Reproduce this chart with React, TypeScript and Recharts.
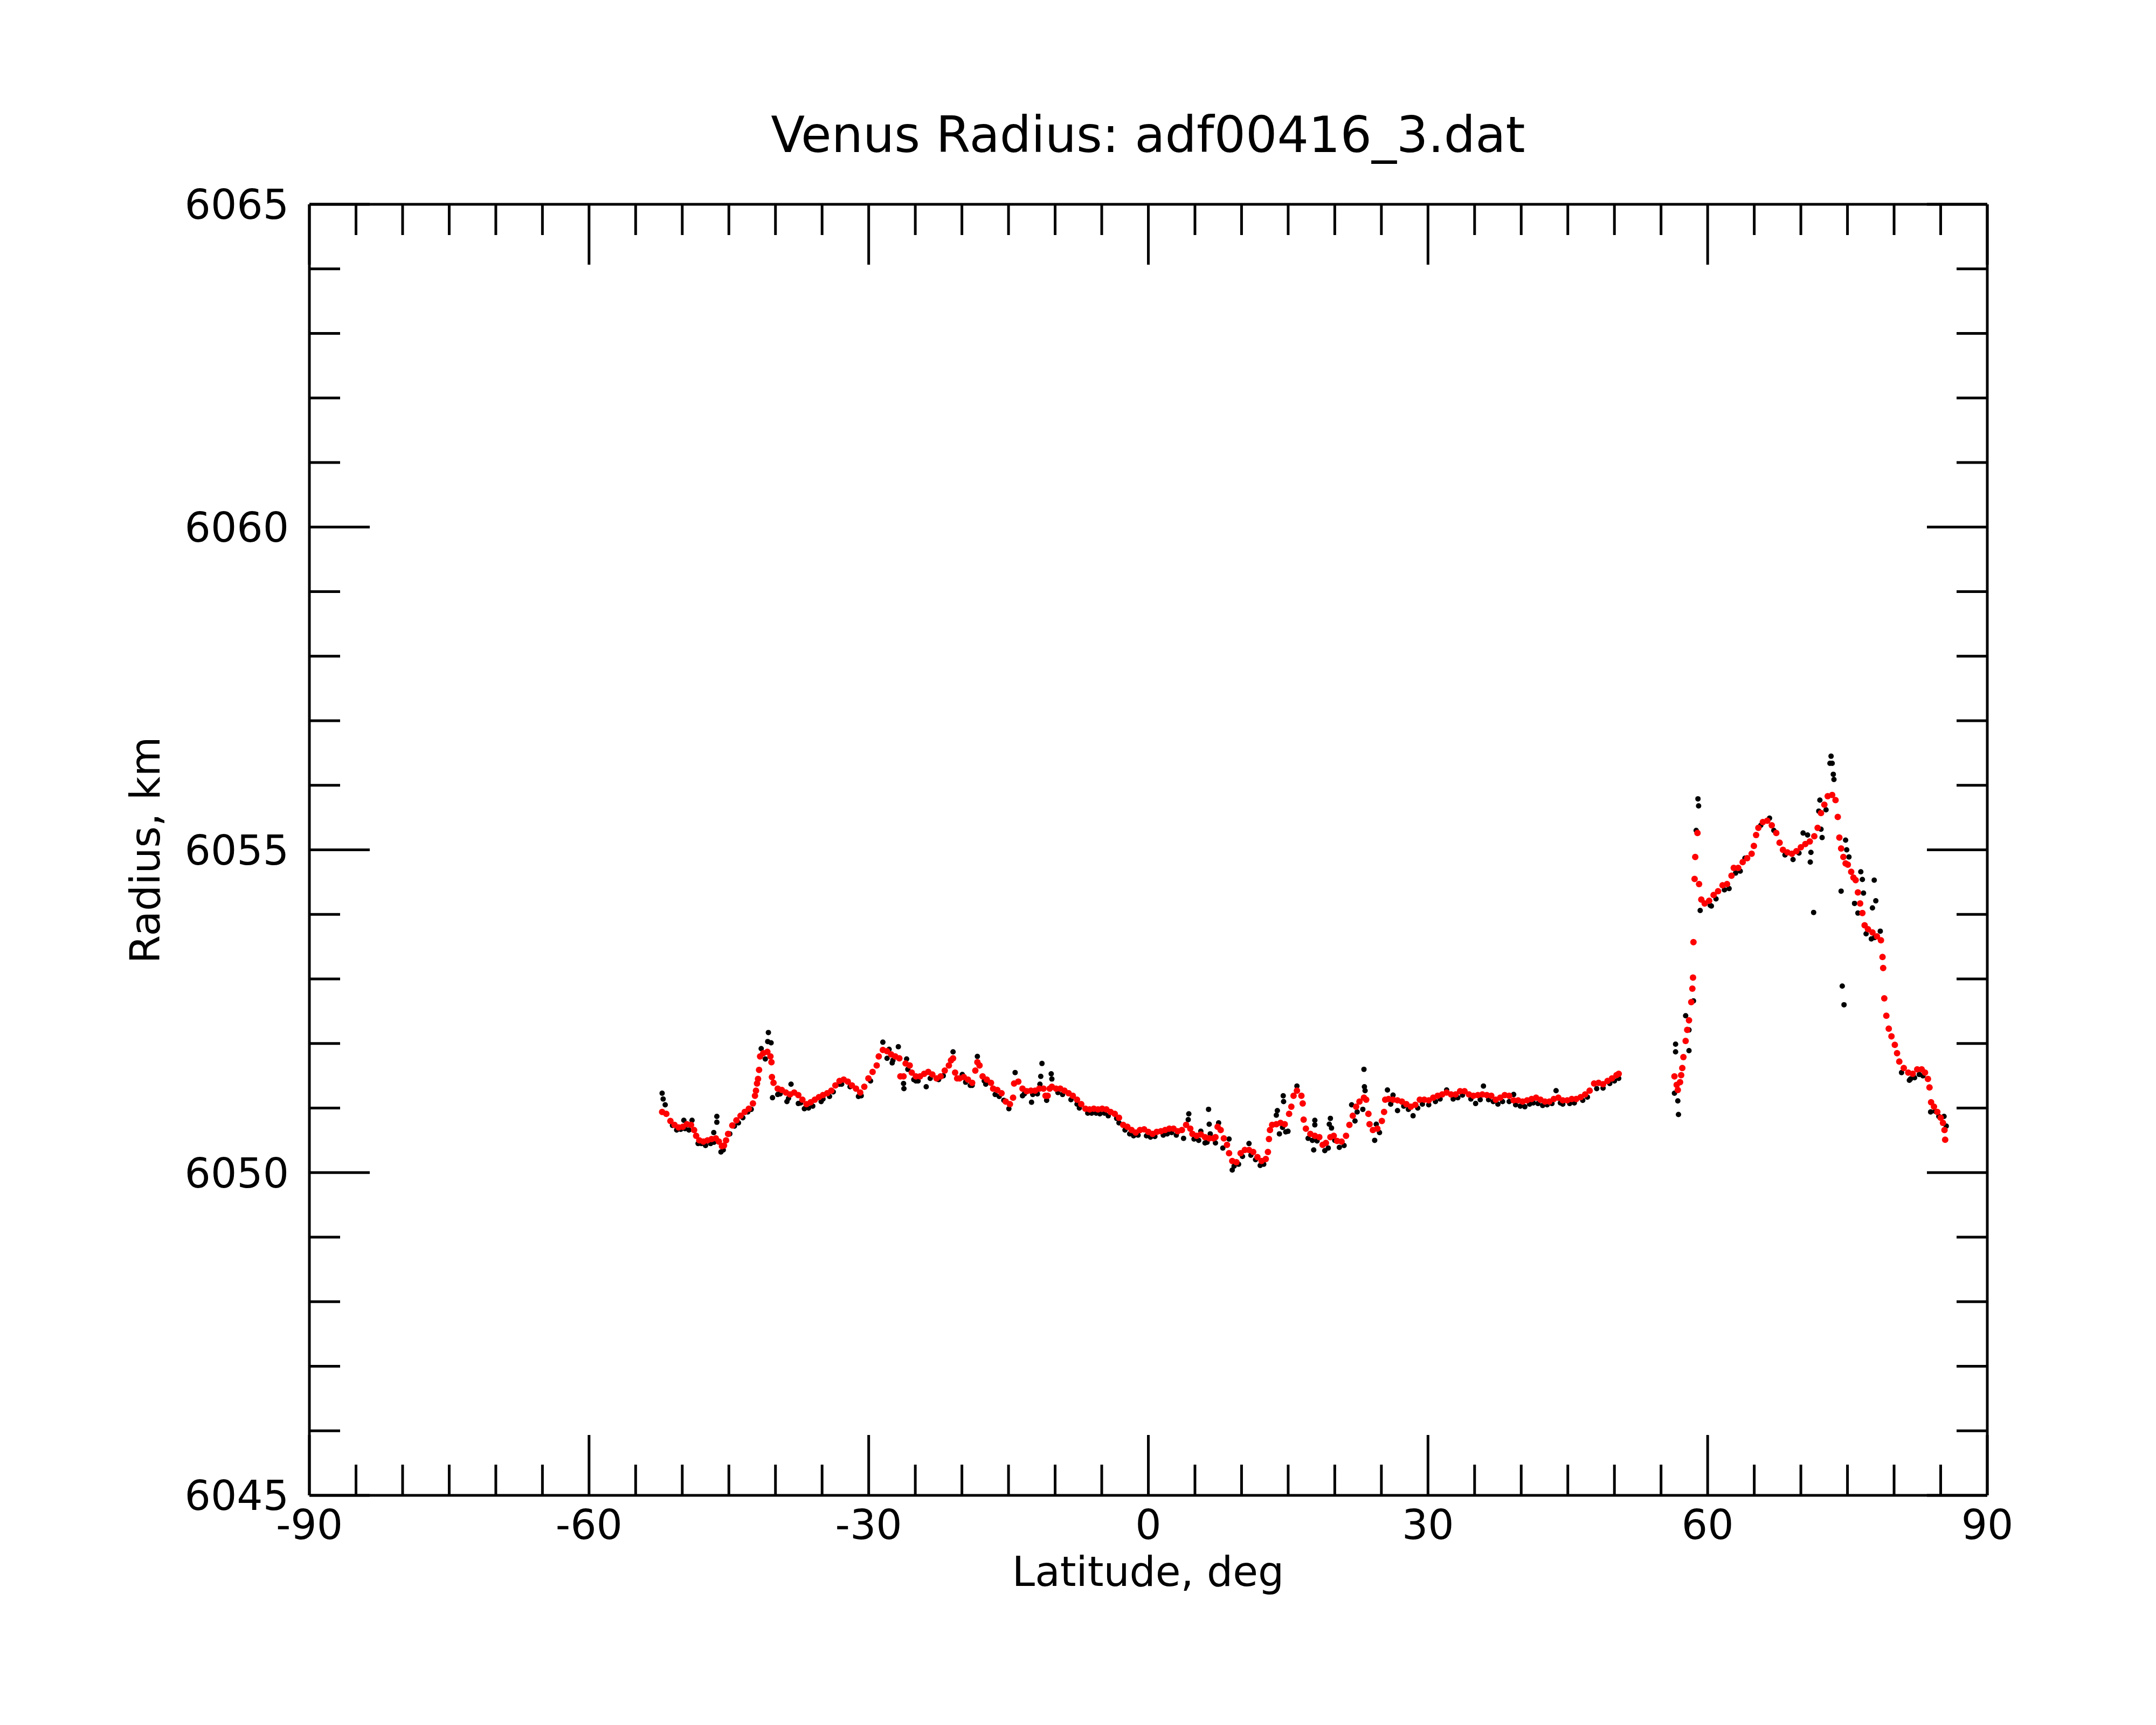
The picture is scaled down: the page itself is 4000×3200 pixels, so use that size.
import { ScatterChart, Scatter, XAxis, YAxis } from 'recharts'

const xMajorTicks = [-90, -60, -30, 0, 30, 60, 90]
const xTicks = [-90, -85, -80, -75, -70, -65, -60, -55, -50, -45, -40, -35, -30, -25, -20, -15, -10, -5, 0, 5, 10, 15, 20, 25, 30, 35, 40, 45, 50, 55, 60, 65, 70, 75, 80, 85, 90]
const yMajorTicks = [6045, 6050, 6055, 6060, 6065]
const yTicks = [6045, 6046, 6047, 6048, 6049, 6050, 6051, 6052, 6053, 6054, 6055, 6056, 6057, 6058, 6059, 6060, 6061, 6062, 6063, 6064, 6065]

// smoothed profile (red)
const redLat = [
  -52.16, -51.71, -51.27, -50.83, -50.39, -49.94, -49.5, -49.06, -48.73, -48.51, -48.17, -47.73, -47.29, -46.85, -46.4, -46.07,
  -45.74, -45.52, -45.3, -45.08, -44.63, -44.19, -43.75, -43.3, -42.86, -42.42, -42.2, -42.09, -41.98, -41.87, -41.76, -41.65,
  -41.31, -40.87, -40.54, -40.43, -40.38, -40.21, -39.76, -39.32, -38.88, -38.44, -37.99, -37.55, -37.11, -36.67, -36.22, -35.78,
  -35.34, -34.9, -34.45, -34.01, -33.57, -33.13, -32.68, -32.24, -31.8, -31.36, -30.91, -30.47, -30.03, -29.58, -29.14, -28.92,
  -28.48, -28.03, -27.59, -27.15, -26.71, -26.6, -26.26, -26.04, -25.6, -25.38, -24.94, -24.49, -24.05, -23.61, -23.17, -22.72,
  -22.28, -21.84, -21.4, -21.17, -20.95, -20.73, -20.51, -20.25, -19.8, -19.35, -18.9, -18.56, -18.34, -18.11, -17.78, -17.33,
  -16.88, -16.65, -16.2, -15.75, -15.3, -14.85, -14.51, -14.4, -13.95, -13.5, -13.05, -12.6, -12.15, -11.7, -11.25, -11.03,
  -10.8, -10.58, -10.35, -9.9, -9.45, -9.0, -8.55, -8.1, -7.65, -7.2, -6.75, -6.3, -5.85, -5.4, -4.95, -4.5,
  -4.05, -3.6, -3.15, -2.7, -2.25, -1.8, -1.35, -0.9, -0.45, 0.0, 0.45, 0.9, 1.35, 1.8, 2.25, 2.7,
  3.15, 3.6, 4.05, 4.5, 4.73, 5.18, 5.63, 6.08, 6.53, 6.98, 7.2, 7.43, 7.76, 8.1, 8.44, 8.66,
  9.0, 9.45, 9.9, 10.35, 10.8, 11.25, 11.7, 12.15, 12.6, 12.83, 12.94, 13.05, 13.28, 13.73, 14.18, 14.63,
  15.1, 15.34, 15.58, 15.94, 16.42, 16.56, 16.66, 16.9, 17.38, 17.86, 18.34, 18.7, 19.05, 19.53, 19.89, 20.25,
  20.73, 21.21, 21.57, 21.93, 22.29, 22.65, 23.13, 23.37, 23.61, 23.73, 24.09, 24.57, 25.05, 25.29, 25.41, 25.77,
  26.25, 26.73, 27.2, 27.68, 28.16, 28.64, 29.12, 29.6, 30.08, 30.56, 31.04, 31.52, 32.0, 32.48, 32.96, 33.44,
  33.92, 34.4, 34.87, 35.35, 35.83, 36.31, 36.79, 37.27, 37.75, 38.23, 38.71, 39.19, 39.67, 40.15, 40.63, 41.11,
  41.59, 42.07, 42.55, 43.02, 43.5, 43.98, 44.46, 44.94, 45.42, 45.9, 46.38, 46.86, 47.34, 47.82, 48.3, 48.78,
  49.26, 49.74, 50.22, 50.46,
  56.44, 56.68, 56.8, 57.04, 57.16, 57.28, 57.4, 57.64, 57.81, 58.0, 58.24, 58.36, 58.43, 58.48, 58.6, 58.67,
  58.91, 59.08, 59.32, 59.68, 60.16, 60.64, 61.12, 61.6, 62.08, 62.56, 62.8, 63.28, 63.76, 64.24, 64.72, 64.96,
  65.2, 65.44, 65.92, 66.4, 66.88, 67.36, 67.72, 68.08, 68.56, 69.04, 69.52, 70.0, 70.48, 70.96, 71.44, 71.8,
  72.16, 72.52, 72.88, 73.36, 73.72, 73.96, 74.13, 74.32, 74.56, 74.8, 75.04, 75.4, 75.64, 75.88, 76.12, 76.36,
  76.6, 76.84, 77.2, 77.68, 78.16, 78.59, 78.76, 78.83, 78.95, 79.17, 79.43, 79.72, 80.08, 80.32, 80.56, 81.04,
  81.52, 82.0, 82.48, 82.96, 83.32, 83.63, 83.8, 83.97, 84.28, 84.64, 85.0, 85.24, 85.41, 85.48,
]
const redRadius = [
  6050.94, 6050.91, 6050.8, 6050.74, 6050.7, 6050.71, 6050.75, 6050.74, 6050.66, 6050.57, 6050.5, 6050.48, 6050.5, 6050.52, 6050.53, 6050.48,
  6050.41, 6050.42, 6050.5, 6050.6, 6050.73, 6050.81, 6050.88, 6050.94, 6050.99, 6051.07, 6051.19, 6051.27, 6051.38, 6051.45, 6051.59, 6051.8,
  6051.85, 6051.87, 6051.8, 6051.71, 6051.48, 6051.39, 6051.3, 6051.28, 6051.24, 6051.21, 6051.24, 6051.2, 6051.13, 6051.06, 6051.09, 6051.13,
  6051.17, 6051.2, 6051.23, 6051.27, 6051.35, 6051.42, 6051.44, 6051.41, 6051.35, 6051.3, 6051.24, 6051.33, 6051.46, 6051.56, 6051.66, 6051.8,
  6051.9, 6051.88, 6051.83, 6051.8, 6051.77, 6051.49, 6051.49, 6051.69, 6051.66, 6051.55, 6051.49, 6051.49, 6051.53, 6051.56, 6051.52, 6051.46,
  6051.49, 6051.58, 6051.66, 6051.74, 6051.77, 6051.55, 6051.46, 6051.46, 6051.48, 6051.44, 6051.39, 6051.58, 6051.71, 6051.66, 6051.49, 6051.44,
  6051.39, 6051.3, 6051.28, 6051.23, 6051.1, 6051.06, 6051.16, 6051.38, 6051.41, 6051.3, 6051.26, 6051.27, 6051.27, 6051.3, 6051.3, 6051.19,
  6051.19, 6051.3, 6051.33, 6051.3, 6051.3, 6051.27, 6051.23, 6051.19, 6051.13, 6051.06, 6050.99, 6050.98, 6050.99, 6050.98, 6050.99, 6050.98,
  6050.94, 6050.91, 6050.85, 6050.74, 6050.71, 6050.66, 6050.62, 6050.66, 6050.67, 6050.63, 6050.6, 6050.63, 6050.64, 6050.66, 6050.68, 6050.68,
  6050.64, 6050.66, 6050.74, 6050.68, 6050.6, 6050.57, 6050.59, 6050.55, 6050.53, 6050.53, 6050.55, 6050.71, 6050.66, 6050.53, 6050.43, 6050.3,
  6050.18, 6050.16, 6050.3, 6050.35, 6050.35, 6050.32, 6050.24, 6050.18, 6050.21, 6050.32, 6050.52, 6050.66, 6050.74, 6050.75, 6050.77, 6050.75,
  6050.91, 6051.02, 6051.19, 6051.27, 6051.19, 6051.07, 6050.82, 6050.68, 6050.6, 6050.57, 6050.55, 6050.43, 6050.46, 6050.55, 6050.57, 6050.49,
  6050.48, 6050.57, 6050.74, 6050.88, 6051.02, 6051.1, 6051.16, 6051.13, 6050.91, 6050.75, 6050.66, 6050.68, 6050.8, 6050.94, 6051.13, 6051.14,
  6051.13, 6051.12, 6051.1, 6051.06, 6051.02, 6051.05, 6051.13, 6051.13, 6051.12, 6051.16, 6051.19, 6051.21, 6051.24, 6051.21, 6051.21, 6051.26,
  6051.26, 6051.21, 6051.19, 6051.2, 6051.21, 6051.2, 6051.19, 6051.13, 6051.16, 6051.2, 6051.19, 6051.12, 6051.12, 6051.1, 6051.12, 6051.14,
  6051.16, 6051.13, 6051.1, 6051.1, 6051.14, 6051.16, 6051.12, 6051.12, 6051.14, 6051.14, 6051.17, 6051.21, 6051.27, 6051.38, 6051.39, 6051.37,
  6051.42, 6051.46, 6051.51, 6051.53,
  6051.49, 6051.36, 6051.28, 6051.4, 6051.51, 6051.62, 6051.79, 6052.04, 6052.21, 6052.36, 6052.64, 6052.85, 6053.02, 6053.57, 6054.55, 6054.89,
  6055.26, 6054.47, 6054.23, 6054.17, 6054.21, 6054.3, 6054.36, 6054.45, 6054.47, 6054.6, 6054.72, 6054.72, 6054.81, 6054.87, 6054.94, 6055.06,
  6055.23, 6055.34, 6055.43, 6055.45, 6055.38, 6055.26, 6055.11, 6055.0, 6054.96, 6054.94, 6054.98, 6055.04, 6055.09, 6055.13, 6055.21, 6055.34,
  6055.57, 6055.7, 6055.83, 6055.85, 6055.77, 6055.51, 6055.19, 6055.02, 6054.89, 6054.79, 6054.77, 6054.66, 6054.57, 6054.53, 6054.34, 6054.17,
  6054.02, 6053.83, 6053.77, 6053.72, 6053.66, 6053.6, 6053.34, 6053.17, 6052.7, 6052.43, 6052.23, 6052.11, 6051.98, 6051.85, 6051.72, 6051.62,
  6051.55, 6051.53, 6051.6, 6051.6, 6051.55, 6051.45, 6051.32, 6051.09, 6051.02, 6050.94, 6050.85, 6050.77, 6050.66, 6050.51,
]

// raw measurements (black)
const blackLat = [
  -52.16, -52.05, -51.83, -51.05, -50.17, -49.83, -49.28, -48.95, -47.95, -46.96, -46.62, -46.29, -46.29, -45.85, -43.97, -42.97,
  -41.53, -41.09, -40.83, -40.76, -40.47, -40.43, -40.32, -39.76, -38.77, -38.33, -37.55, -36.45, -34.9, -33.13, -30.8, -28.48,
  -28.03, -27.81, -27.48, -26.82, -26.26, -26.22, -25.93, -25.16, -24.94, -23.83, -22.5, -20.95, -19.96, -18.9, -18.34, -17.44,
  -16.43, -14.96, -14.29, -13.5, -12.53, -11.63, -11.54, -11.41, -10.91, -10.42, -10.35, -7.65, -6.08, -3.15, -1.58, 0.23,
  2.03, 3.78, 4.28, 4.34, 5.63, 6.08, 6.46, 6.53, 6.64, 7.2, 7.54, 7.99, 8.66, 9.0, 9.68, 10.8,
  12.38, 13.73, 13.84, 14.06, 14.47, 14.51, 14.74, 14.98, 15.94, 17.14, 17.74, 17.86, 17.86, 18.93, 19.41, 19.53,
  19.65, 20.49, 21.81, 22.17, 23.01, 23.13, 23.18, 23.25, 24.28, 24.45, 25.65, 26.25, 26.73, 28.4, 30.08, 32.0,
  35.11, 35.95, 38.71, 39.19, 40.39, 42.78, 43.74, 44.46, 48.78, 50.46,
  -50.6, -49.7, -48.3, -47.5, -46.6, -45.6, -44.9, -44.4, -43.5, -42.6, -39.5, -38.6, -37.3, -36.9, -36.0, -35.1,
  -34.2, -33.8, -32.9, -32.0, -31.1, -29.8, -27.4, -25.8, -24.7, -23.4, -22.0, -19.6, -19.1, -17.6, -16.0, -15.5,
  -13.3, -12.4, -11.9, -9.7, -9.2, -8.3, -7.4, -6.5, -5.6, -5.2, -4.7, -4.3, -3.4, -2.5, -2.0, -1.1,
  -0.2, 0.7, 1.6, 2.5, 3.0, 4.9, 5.4, 6.3, 9.2, 10.1, 11.0, 11.5, 12.0, 14.4, 17.6, 18.1,
  19.3, 20.0, 21.0, 22.4, 24.8, 26.0, 27.4, 27.9, 28.9, 29.4, 30.8, 31.3, 32.7, 33.2, 33.7, 34.6,
  35.6, 36.5, 37.0, 37.5, 38.0, 39.4, 39.9, 40.9, 41.3, 41.8, 42.3, 43.3, 44.2, 45.2, 45.7, 46.6,
  47.1, 48.1, 49.5, 50.0,
  56.44, 56.56, 56.56, 56.8, 56.87, 57.64, 58.0, 58.0, 58.48, 58.77, 58.96, 59.03, 59.2, 60.28, 60.4, 64.0,
  66.64, 69.16, 70.24, 70.72, 71.01, 71.08, 71.37, 71.92, 72.04, 72.16, 72.28, 73.12, 73.24, 73.36, 73.48, 73.55,
  74.32, 74.44, 74.63, 74.8, 74.92, 75.16, 75.76, 76.12, 76.43, 76.6, 76.72, 77.56, 77.68, 77.87, 78.04, 78.52,
  81.64, 81.76, 83.92, 85.36, 85.6,
  60.9, 61.8, 62.3, 63.0, 63.5, 65.7, 67.1, 68.3, 69.8, 72.7, 77.0, 77.9, 80.8, 82.2, 82.7, 83.1,
  84.4, 84.8,
]
const blackRadius = [
  6051.23, 6051.14, 6051.05, 6050.73, 6050.67, 6050.81, 6050.66, 6050.81, 6050.45, 6050.45, 6050.62, 6050.87, 6050.78, 6050.32, 6050.77, 6050.94,
  6051.92, 6051.76, 6052.03, 6052.17, 6052.01, 6051.71, 6051.16, 6051.21, 6051.1, 6051.37, 6051.07, 6051.0, 6051.14, 6051.37, 6051.19, 6052.02,
  6051.77, 6051.91, 6051.7, 6051.95, 6051.38, 6051.3, 6051.76, 6051.44, 6051.42, 6051.33, 6051.44, 6051.87, 6051.52, 6051.35, 6051.8, 6051.37,
  6051.21, 6050.99, 6051.55, 6051.19, 6051.09, 6051.37, 6051.49, 6051.69, 6051.12, 6051.53, 6051.45, 6051.06, 6050.92, 6050.77, 6050.57, 6050.55,
  6050.6, 6050.53, 6050.82, 6050.91, 6050.64, 6050.46, 6050.98, 6050.75, 6050.6, 6050.46, 6050.77, 6050.38, 6050.52, 6050.04, 6050.13, 6050.45,
  6050.13, 6050.89, 6050.96, 6050.6, 6051.19, 6051.1, 6050.63, 6050.64, 6051.34, 6050.53, 6050.35, 6050.81, 6050.74, 6050.34, 6050.75, 6050.84,
  6050.69, 6050.39, 6051.05, 6050.8, 6050.98, 6051.6, 6051.33, 6051.27, 6050.5, 6050.75, 6051.28, 6051.2, 6050.96, 6050.88, 6051.05, 6051.28,
  6051.07, 6051.34, 6051.1, 6051.21, 6051.02, 6051.05, 6051.27, 6051.06, 6051.31, 6051.46,
  6050.66, 6050.68, 6050.45, 6050.42, 6050.47, 6050.35, 6050.6, 6050.72, 6050.85, 6050.98, 6051.22, 6051.15, 6051.08, 6050.99, 6051.03, 6051.1,
  6051.18, 6051.25, 6051.37, 6051.33, 6051.18, 6051.42, 6051.74, 6051.6, 6051.42, 6051.46, 6051.5, 6051.4, 6051.35, 6051.42, 6051.18, 6051.12,
  6051.22, 6051.21, 6051.22, 6051.24, 6051.21, 6051.13, 6051.0, 6050.92, 6050.92, 6050.91, 6050.92, 6050.88, 6050.84, 6050.66, 6050.6, 6050.58,
  6050.57, 6050.56, 6050.58, 6050.62, 6050.58, 6050.52, 6050.5, 6050.47, 6050.1, 6050.25, 6050.27, 6050.2, 6050.11, 6050.7, 6050.5, 6050.49,
  6050.38, 6050.5, 6050.42, 6050.94, 6050.62, 6051.06, 6051.03, 6050.98, 6051.0, 6051.06, 6051.1, 6051.14, 6051.14, 6051.16, 6051.2, 6051.14,
  6051.13, 6051.13, 6051.1, 6051.06, 6051.1, 6051.05, 6051.03, 6051.06, 6051.08, 6051.07, 6051.04, 6051.07, 6051.08, 6051.07, 6051.08, 6051.12,
  6051.17, 6051.3, 6051.38, 6051.42,
  6051.23, 6051.99, 6051.87, 6051.11, 6050.9, 6052.43, 6052.21, 6051.89, 6052.66, 6055.3, 6055.79, 6055.68, 6054.06, 6054.14, 6054.13, 6054.87,
  6055.49, 6054.85, 6055.26, 6055.23, 6054.81, 6054.96, 6054.03, 6055.6, 6055.77, 6055.32, 6055.19, 6056.34, 6056.45, 6056.34, 6056.17, 6056.09,
  6054.36, 6052.89, 6052.6, 6055.15, 6055.0, 6054.89, 6054.17, 6054.02, 6054.66, 6054.54, 6054.33, 6053.62, 6054.1, 6054.53, 6054.21, 6053.74,
  6051.43, 6051.45, 6050.94, 6050.87, 6050.72,
  6054.24, 6054.38, 6054.4, 6054.64, 6054.67, 6055.38, 6055.3, 6054.92, 6054.95, 6055.62, 6053.7, 6053.64, 6051.55, 6051.47, 6051.52, 6051.5,
  6050.95, 6050.87,
]

const redData = redLat.map((lat, i) => ({ lat, radius: redRadius[i] }))
const blackData = blackLat.map((lat, i) => ({ lat, radius: blackRadius[i] }))

const FONT = 'DejaVu Sans'
const FS = 76
const MAJOR = 112
const MINOR = 57
const PLOT_H = 2395

// bottom axis tick: inward tick on the bottom edge, its mirror on the top edge, and the label
function BottomTick(props: any) {
  const { x, y, payload } = props
  const major = xMajorTicks.includes(payload.value)
  const len = major ? MAJOR : MINOR
  const top = y - PLOT_H
  return (
    <g>
      <line x1={x} y1={y} x2={x} y2={y - len} stroke="#000" strokeWidth={5} />
      <line x1={x} y1={top} x2={x} y2={top + len} stroke="#000" strokeWidth={5} />
      {major && (
        <text x={x} y={y + 81} textAnchor="middle" fontSize={FS} fontFamily={FONT} fill="#000">
          {payload.value}
        </text>
      )}
    </g>
  )
}

function LeftTick(props: any) {
  const { x, y, payload } = props
  const major = yMajorTicks.includes(payload.value)
  return (
    <g>
      <line x1={x} y1={y} x2={x + (major ? MAJOR : MINOR)} y2={y} stroke="#000" strokeWidth={5} />
      {major && (
        <text x={x - 38} y={y} dy="0.36em" textAnchor="end" fontSize={FS} fontFamily={FONT} fill="#000">
          {payload.value}
        </text>
      )}
    </g>
  )
}

function RightTick(props: any) {
  const { x, y, payload } = props
  const major = yMajorTicks.includes(payload.value)
  return <line x1={x} y1={y} x2={x - (major ? MAJOR : MINOR)} y2={y} stroke="#000" strokeWidth={5} />
}

const axisLine = { stroke: '#000', strokeWidth: 5 }

export default function App() {
  return (
    <div style={{ position: 'absolute', left: 0, top: 0, width: 4000, height: 3200, background: '#fff' }}>
      <ScatterChart width={4000} height={3200} margin={{ top: 339, right: 273, bottom: 386, left: 534 }}>
        <XAxis
          xAxisId="bottom"
          type="number"
          dataKey="lat"
          domain={[-90, 90]}
          ticks={xTicks}
          interval={0}
          allowDataOverflow
          height={40}
          tickLine={false}
          tickSize={0}
          tickMargin={0}
          axisLine={axisLine}
          tick={(p: any) => <BottomTick {...p} />}
        />
        <XAxis
          xAxisId="top"
          orientation="top"
          type="number"
          dataKey="lat"
          domain={[-90, 90]}
          allowDataOverflow
          height={40}
          tickLine={false}
          axisLine={axisLine}
          tick={false}
        />
        <YAxis
          yAxisId="left"
          type="number"
          dataKey="radius"
          domain={[6045, 6065]}
          ticks={yTicks}
          interval={0}
          allowDataOverflow
          width={40}
          tickLine={false}
          tickSize={0}
          tickMargin={0}
          axisLine={axisLine}
          tick={(p: any) => <LeftTick {...p} />}
        />
        <YAxis
          yAxisId="right"
          orientation="right"
          type="number"
          domain={[6045, 6065]}
          ticks={yTicks}
          interval={0}
          allowDataOverflow
          width={40}
          tickLine={false}
          tickSize={0}
          tickMargin={0}
          axisLine={axisLine}
          tick={(p: any) => <RightTick {...p} />}
        />
        <Scatter
          xAxisId="bottom"
          yAxisId="left"
          data={blackData}
          isAnimationActive={false}
          shape={(p: any) => <circle cx={p.cx} cy={p.cy} r={5} fill="#000" />}
        />
        <Scatter
          xAxisId="bottom"
          yAxisId="left"
          data={redData}
          isAnimationActive={false}
          shape={(p: any) => <circle cx={p.cx} cy={p.cy} r={6} fill="#ff0000" />}
        />
      </ScatterChart>
      <svg width={4000} height={3200} style={{ position: 'absolute', left: 0, top: 0, pointerEvents: 'none' }}>
        <text x={2130} y={282} textAnchor="middle" fontSize={92} fontFamily={FONT} fill="#000">
          Venus Radius: adf00416_3.dat
        </text>
        <text x={2130} y={2942} textAnchor="middle" fontSize={FS} fontFamily={FONT} fill="#000">
          Latitude, deg
        </text>
        <text x={296} y={1577} textAnchor="middle" fontSize={FS} fontFamily={FONT} fill="#000" transform="rotate(-90 296 1577)">
          Radius, km
        </text>
      </svg>
    </div>
  )
}
